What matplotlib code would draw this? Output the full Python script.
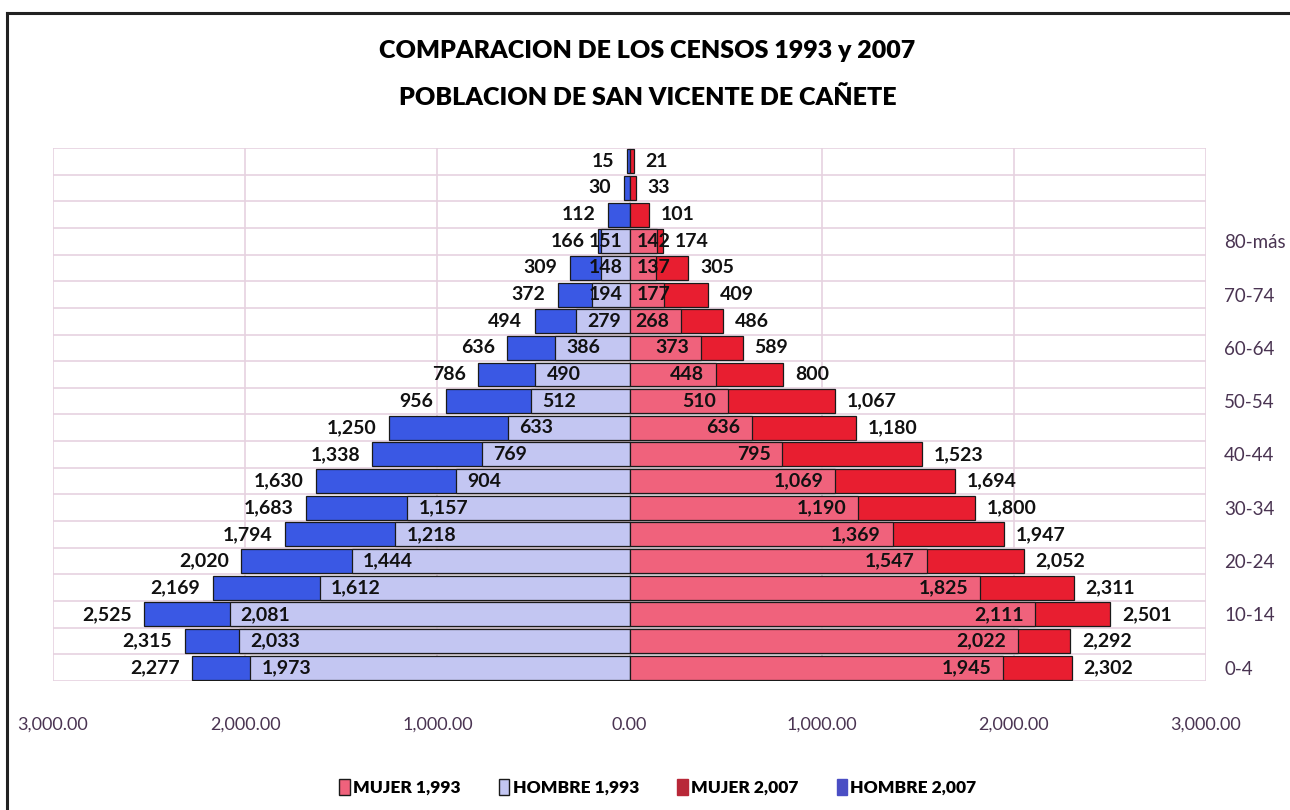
import numpy as np
import matplotlib
matplotlib.use("Agg")
import matplotlib.pyplot as plt
from matplotlib.lines import Line2D
from matplotlib.patches import Patch

plt.rcParams['font.family'] = ['Lato', 'DejaVu Sans']

# age groups, bottom to top (only every second one gets a label)
grupos = ["0-4", "5-9", "10-14", "15-19", "20-24", "25-29", "30-34", "35-39",
          "40-44", "45-49", "50-54", "55-59", "60-64", "65-69", "70-74",
          "75-79", "80-más", "", "", ""]

hombre_2007 = [2277, 2315, 2525, 2169, 2020, 1794, 1683, 1630, 1338, 1250,
               956, 786, 636, 494, 372, 309, 166, 112, 30, 15]
hombre_1993 = [1973, 2033, 2081, 1612, 1444, 1218, 1157, 904, 769, 633,
               512, 490, 386, 279, 194, 148, 151, None, None, None]
mujer_1993 = [1945, 2022, 2111, 1825, 1547, 1369, 1190, 1069, 795, 636,
              510, 448, 373, 268, 177, 137, 142, None, None, None]
mujer_2007 = [2302, 2292, 2501, 2311, 2052, 1947, 1800, 1694, 1523, 1180,
              1067, 800, 589, 486, 409, 305, 174, 101, 33, 21]

x_ticks = [-3000, -2000, -1000, 0, 1000, 2000, 3000]

c_h07 = "#3a58e4"
c_h93 = "#c3c6f2"
c_m93 = "#f0627c"
c_m07 = "#e81e30"
grid_c = "#e6d2e0"
txt_c = "#4a3452"


def present(vals):
    idx = [i for i, v in enumerate(vals) if v is not None]
    return np.array(idx), np.array([vals[i] for i in idx], dtype=float)


fig = plt.figure(figsize=(12.9, 8.1), dpi=100)
ax = fig.add_axes([0.0411, 0.1593, 0.8938, 0.658])

h = 0.9
y07h, v07h = present(hombre_2007)
y93h, v93h = present(hombre_1993)
y93m, v93m = present(mujer_1993)
y07m, v07m = present(mujer_2007)

ax.barh(y07h, -v07h, height=h, color=c_h07, edgecolor="#1a1a1a", lw=0.9, zorder=3)
ax.barh(y93h, -v93h, height=h, color=c_h93, edgecolor="#1a1a1a", lw=0.9, zorder=4)
ax.barh(y07m, v07m, height=h, color=c_m07, edgecolor="#1a1a1a", lw=0.9, zorder=3)
ax.barh(y93m, v93m, height=h, color=c_m93, edgecolor="#1a1a1a", lw=0.9, zorder=4)

lab = dict(fontsize=14, fontweight="bold", color="#111111", va="center",
           textcoords="offset points", zorder=6)
small = 240  # below this the inside label would cross the centre line
for y, v in zip(y07h, v07h):
    ax.annotate(f"{int(v):,}", (-v, y), xytext=(-9, 0), ha="right", **lab)
for y, v in zip(y93h, v93h):
    if v < small:
        ax.annotate(f"{int(v):,}", (0, y), xytext=(-5, 0), ha="right", **lab)
    else:
        ax.annotate(f"{int(v):,}", (-v, y), xytext=(8, 0), ha="left", **lab)
for y, v in zip(y93m, v93m):
    if v < small:
        ax.annotate(f"{int(v):,}", (0, y), xytext=(5.5, 0), ha="left", **lab)
    else:
        ax.annotate(f"{int(v):,}", (v, y), xytext=(-8.5, 0), ha="right", **lab)
for y, v in zip(y07m, v07m):
    ax.annotate(f"{int(v):,}", (v, y), xytext=(8.5, 0), ha="left", **lab)

ax.set_xlim(-3000, 3000)
ax.set_ylim(-0.5, len(grupos) - 0.5)

ax.set_xticks(x_ticks)
ax.set_xticklabels([f"{abs(t):,.2f}" for t in x_ticks], fontsize=13, color=txt_c)
ax.tick_params(axis="x", length=0, pad=26)

ax.yaxis.tick_right()
ax.set_yticks(range(0, len(grupos), 2))
ax.set_yticklabels(grupos[::2], fontsize=13.5, color=txt_c)
ax.tick_params(axis="y", length=0, pad=13)

for yb in np.arange(-0.5, len(grupos), 1.0):
    ax.axhline(yb, color=grid_c, lw=1.2, zorder=1)
for xt in x_ticks:
    ax.axvline(xt, color=grid_c, lw=1.2, zorder=1)
for s in ax.spines.values():
    s.set_visible(False)

fig.text(0.502, 0.937, "COMPARACION DE LOS CENSOS 1993 y 2007",
         ha="center", va="center", fontsize=18, fontweight="heavy")
fig.text(0.502, 0.880, "POBLACION DE SAN VICENTE DE CAÑETE",
         ha="center", va="center", fontsize=18, fontweight="heavy")

handles = [Patch(facecolor=c_m93, edgecolor="#1a1a1a", label="MUJER 1,993"),
           Patch(facecolor=c_h93, edgecolor="#1a1a1a", label="HOMBRE 1,993"),
           Patch(facecolor="#b82838", edgecolor="#b82838", label="MUJER 2,007"),
           Patch(facecolor="#4a4ec4", edgecolor="#4a4ec4", label="HOMBRE 2,007")]
fig.legend(handles=handles, loc="center", bbox_to_anchor=(0.51, 0.028), ncol=4,
           frameon=False, handlelength=0.6, handleheight=1.0, handletextpad=0.2,
           columnspacing=2.2, prop={"weight": "heavy", "size": 12.5})

# figure frame (left and top edges visible)
fig.add_artist(Line2D([0.0055, 0.0055], [0.0, 0.984], color="#222222", lw=2.2))
fig.add_artist(Line2D([0.0055, 1.0], [0.984, 0.984], color="#222222", lw=2.2))

fig.savefig("out.png", dpi=100)
